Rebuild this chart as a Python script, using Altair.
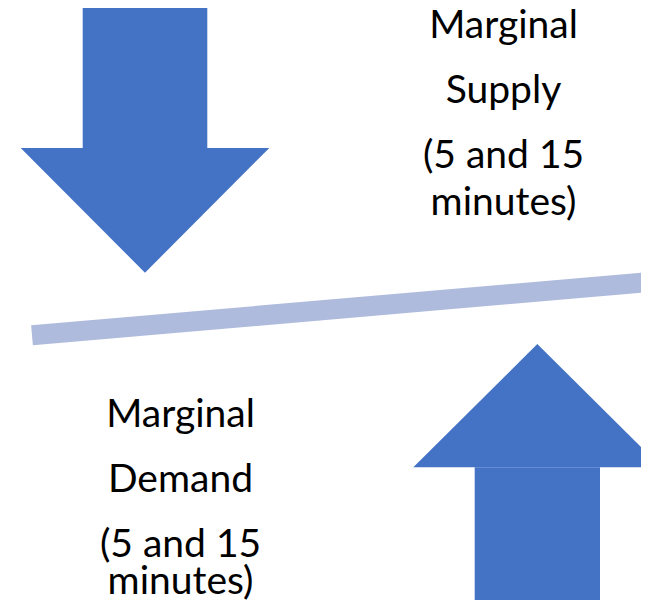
import altair as alt
import pandas as pd

# Down arrow (left, top): shaft rectangle + triangular head (pixels from top-left)
down_shaft = {"x": [82.7], "x2": [207.3], "y": [0], "y2": [148]}
down_head_x = [20.7, 145, 269.3]
down_head_y = [148, 272.7, 148]
down_head_y2 = [148, 148, 148]

# Up arrow (right, bottom)
up_shaft = {"x": [474.7], "x2": [600], "y": [467.3], "y2": [620]}
up_head_x = [413.3, 537.3, 661.3]
up_head_y = [467.3, 344, 467.3]
up_head_y2 = [467.3, 467.3, 467.3]

# Divider band
band_x = [32]
band_y = [335.3]
band_x2 = [700]
band_y2 = [277.6]

# Labels
label_text = ["Marginal", "Supply", "(5 and 15", "minutes)",
              "Marginal", "Demand", "(5 and 15", "minutes)"]
label_x = [503.5, 503.5, 503.5, 503.5, 180.5, 180.5, 180.5, 180.5]
label_y = [38, 103, 168, 215, 427, 492, 556.5, 594]

BLUE = "#4472C4"
BAND = "#AFBBDC"

X0, X1, Y0, Y1 = 8, 641, 8, 600
xs = alt.Scale(domain=[X0, X1], nice=False, zero=False)
ys = alt.Scale(domain=[Y1, Y0], nice=False, zero=False)

def shaft(d):
    return alt.Chart(pd.DataFrame(d)).mark_rect(color=BLUE, clip=True).encode(
        x=alt.X("x:Q", scale=xs, axis=None), x2="x2:Q",
        y=alt.Y("y:Q", scale=ys, axis=None), y2="y2:Q",
    )

def head(hx, hy, hy2):
    df = pd.DataFrame({"x": hx, "y": hy, "y2": hy2})
    return alt.Chart(df).mark_area(color=BLUE, clip=True).encode(
        x=alt.X("x:Q", scale=xs, axis=None),
        y=alt.Y("y:Q", scale=ys, axis=None),
        y2="y2:Q",
    )

band = pd.DataFrame({"x": band_x, "y": band_y, "x2": band_x2, "y2": band_y2})
labels = pd.DataFrame({"t": label_text, "x": label_x, "y": label_y})

band_layer = alt.Chart(band).mark_rule(color=BAND, strokeWidth=20, strokeCap="butt", clip=True).encode(
    x=alt.X("x:Q", scale=xs, axis=None),
    y=alt.Y("y:Q", scale=ys, axis=None),
    x2="x2:Q",
    y2="y2:Q",
)

text_layer = alt.Chart(labels).mark_text(
    font="Lato", fontSize=39, color="#000000", align="center", baseline="alphabetic"
).encode(
    x=alt.X("x:Q", scale=xs, axis=None),
    y=alt.Y("y:Q", scale=ys, axis=None),
    text="t:N",
)

chart = alt.layer(
    shaft(down_shaft), head(down_head_x, down_head_y, down_head_y2),
    shaft(up_shaft), head(up_head_x, up_head_y, up_head_y2),
    band_layer, text_layer,
).properties(
    width=X1 - X0, height=Y1 - Y0, padding=0, autosize=alt.AutoSizeParams(type="none"),
    background="white",
).configure_view(stroke=None)

chart.save("out.html", embed_options={"renderer": "svg", "actions": False})
